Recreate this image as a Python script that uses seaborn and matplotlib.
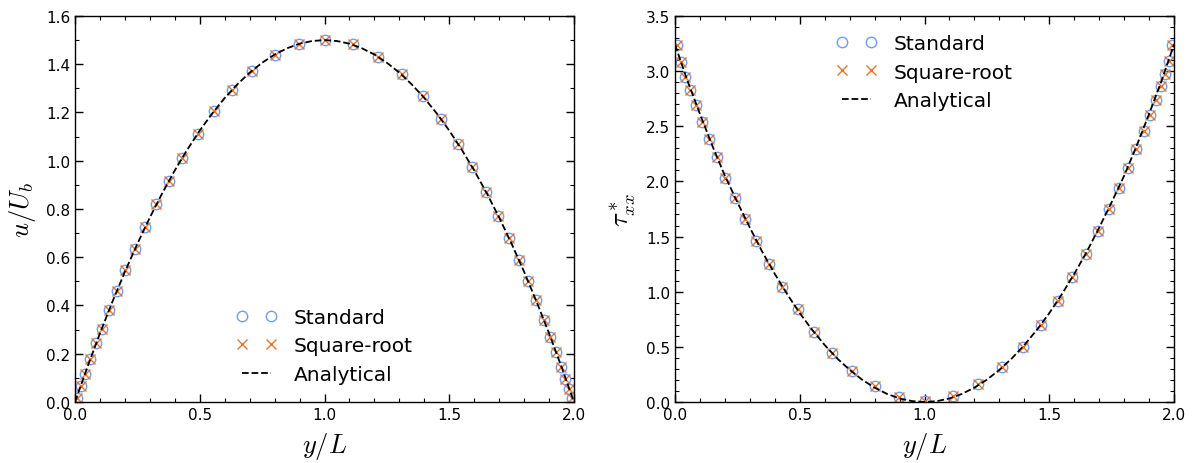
import matplotlib
matplotlib.use('Agg')
import matplotlib.pyplot as plt
import seaborn as sns
from matplotlib.ticker import MultipleLocator

# marker positions y/L
y_pts = [0.008, 0.022, 0.038, 0.061, 0.085, 0.109, 0.137, 0.168, 0.202, 0.241,
         0.281, 0.326, 0.376, 0.430, 0.491, 0.556, 0.629, 0.709, 0.800, 0.896,
         1.000, 1.113, 1.216, 1.310, 1.393, 1.467, 1.535, 1.592, 1.648, 1.697,
         1.740, 1.780, 1.815, 1.848, 1.878, 1.905, 1.927, 1.948, 1.966, 1.981, 1.993]

u_standard = [0.015, 0.065, 0.115, 0.177, 0.244, 0.304, 0.380, 0.462, 0.545, 0.636,
              0.725, 0.819, 0.914, 1.013, 1.111, 1.204, 1.294, 1.372, 1.439, 1.483,
              1.500, 1.482, 1.431, 1.358, 1.268, 1.171, 1.069, 0.974, 0.870, 0.771,
              0.679, 0.587, 0.501, 0.421, 0.341, 0.269, 0.208, 0.146, 0.097, 0.054, 0.018]
u_sqrt = u_standard

tau_standard = [3.240, 3.085, 2.950, 2.830, 2.690, 2.540, 2.380, 2.220, 2.034, 1.853,
                1.657, 1.457, 1.251, 1.040, 0.840, 0.638, 0.447, 0.278, 0.142, 0.045,
                0.005, 0.054, 0.160, 0.314, 0.499, 0.701, 0.916, 1.130, 1.342, 1.550,
                1.753, 1.943, 2.124, 2.294, 2.454, 2.605, 2.735, 2.862, 2.977, 3.092, 3.234]
tau_sqrt = tau_standard

# analytical curves, read at steps of 0.05
y_an = [0.00, 0.05, 0.10, 0.15, 0.20, 0.25, 0.30, 0.35, 0.40, 0.45, 0.50,
        0.55, 0.60, 0.65, 0.70, 0.75, 0.80, 0.85, 0.90, 0.95, 1.00,
        1.05, 1.10, 1.15, 1.20, 1.25, 1.30, 1.35, 1.40, 1.45, 1.50,
        1.55, 1.60, 1.65, 1.70, 1.75, 1.80, 1.85, 1.90, 1.95, 2.00]
u_an = [0.000, 0.146, 0.285, 0.416, 0.540, 0.656, 0.765, 0.866, 0.960, 1.046, 1.125,
        1.196, 1.260, 1.316, 1.365, 1.406, 1.440, 1.466, 1.485, 1.496, 1.500,
        1.496, 1.485, 1.466, 1.440, 1.406, 1.365, 1.316, 1.260, 1.196, 1.125,
        1.046, 0.960, 0.866, 0.765, 0.656, 0.540, 0.416, 0.285, 0.146, 0.000]
tau_an = [3.240, 2.910, 2.610, 2.320, 2.050, 1.810, 1.580, 1.360, 1.160, 0.975, 0.805,
          0.653, 0.516, 0.395, 0.291, 0.202, 0.130, 0.073, 0.032, 0.008, 0.000,
          0.008, 0.032, 0.073, 0.130, 0.202, 0.291, 0.395, 0.516, 0.653, 0.805,
          0.975, 1.160, 1.360, 1.580, 1.810, 2.050, 2.320, 2.610, 2.910, 3.240]

sns.set_style('ticks')
plt.rcParams['font.family'] = ['DejaVu Sans']
plt.rcParams['mathtext.fontset'] = 'cm'
for k in ('text.color', 'axes.labelcolor', 'xtick.color', 'ytick.color', 'axes.edgecolor'):
    plt.rcParams[k] = 'black'

blue = '#6f9ef0'
orange = '#e8752a'

fig = plt.figure(figsize=(11.95, 4.64), dpi=100)
ax1 = fig.add_axes([0.0628, 0.1315, 0.4175, 0.832])
ax2 = fig.add_axes([0.5649, 0.1315, 0.4175, 0.832])


def draw(ax, ys, std, sq, ya, an):
    sns.lineplot(x=ys, y=std, ax=ax, linestyle='', marker='o', markersize=7.5,
                 markerfacecolor='none', markeredgecolor=blue, markeredgewidth=1.0,
                 label='Standard', sort=False)
    sns.lineplot(x=ys, y=sq, ax=ax, linestyle='', marker='x', markersize=7.5,
                 color=orange, markeredgecolor=orange, markeredgewidth=1.0,
                 label='Square-root', sort=False)
    sns.lineplot(x=ya, y=an, ax=ax, color='black', linestyle='--', linewidth=1.3,
                 label='Analytical', sort=False, zorder=5)


draw(ax1, y_pts, u_standard, u_sqrt, y_an, u_an)
draw(ax2, y_pts, tau_standard, tau_sqrt, y_an, tau_an)

ax1.set_xlim(0, 2.0)
ax1.set_ylim(0, 1.6)
ax2.set_xlim(0, 2.0)
ax2.set_ylim(0, 3.5)

ax1.xaxis.set_major_locator(MultipleLocator(0.5))
ax1.xaxis.set_minor_locator(MultipleLocator(0.1))
ax1.yaxis.set_major_locator(MultipleLocator(0.2))
ax1.yaxis.set_minor_locator(MultipleLocator(0.1))
ax2.xaxis.set_major_locator(MultipleLocator(0.5))
ax2.xaxis.set_minor_locator(MultipleLocator(0.1))
ax2.yaxis.set_major_locator(MultipleLocator(0.5))
ax2.yaxis.set_minor_locator(MultipleLocator(0.1))

for ax in (ax1, ax2):
    ax.tick_params(which='both', direction='in', top=True, right=True, labelsize=11)
    ax.tick_params(which='major', length=6, width=1)
    ax.tick_params(which='minor', length=3, width=0.8)
    for s in ax.spines.values():
        s.set_linewidth(1.0)
    ax.set_xlabel(r'$y/L$', fontsize=19, labelpad=6)

ax1.set_ylabel(r'$u/U_b$', fontsize=19, labelpad=6)
ax2.set_ylabel(r'$\tau^*_{xx}$', fontsize=19, labelpad=6)

leg_kw = dict(frameon=False, numpoints=2, fontsize=14.5, handlelength=2.0,
              handletextpad=0.84, labelspacing=0.47)
ax1.legend(loc='lower left', bbox_to_anchor=(0.287, 0.0), **leg_kw)
ax2.legend(loc='upper left', bbox_to_anchor=(0.287, 1.0), **leg_kw)

fig.savefig('out.png', dpi=100)
